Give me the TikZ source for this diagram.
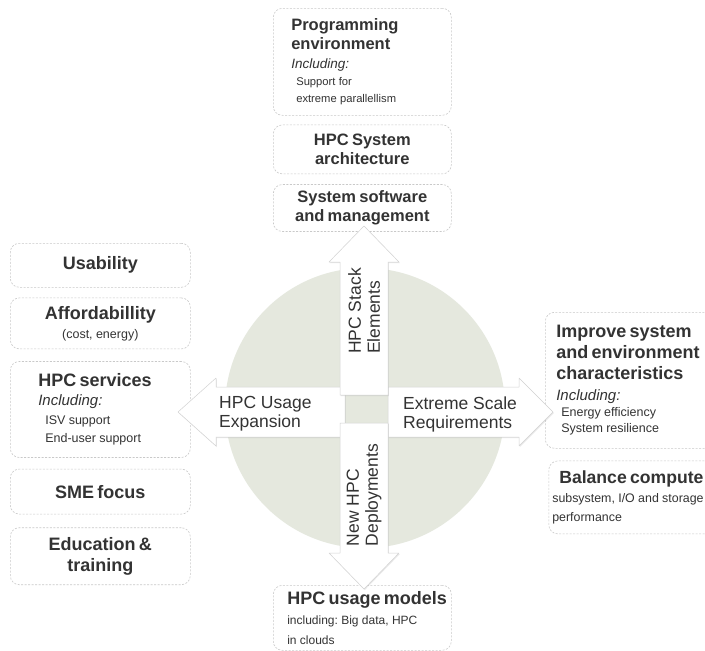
\documentclass[tikz,border=0pt]{standalone}
\usepackage{fontspec}
\setmainfont{Liberation Sans}
\usetikzlibrary{positioning,shadows}

\definecolor{txt}{HTML}{333333}
\definecolor{boxline}{HTML}{C9C9C9}
\definecolor{disc}{HTML}{E5E8DE}
\definecolor{arrowedge}{HTML}{D2D2D2}

\hyphenpenalty=10000
\exhyphenpenalty=10000
\frenchspacing

% heading, "Including:" and item lines inside the boxes
% (the t-versions are the smaller ones of the stack column)
\newcommand{\hdt}[1]{{\fontsize{16.5}{19}\selectfont\bfseries #1\par}}
\newcommand{\hd}[1]{{\fontsize{18}{21}\selectfont\bfseries #1\par}}
\newcommand{\inclt}{{\fontsize{13.5}{19}\selectfont\itshape Including:\par}}
\newcommand{\incl}{{\fontsize{15}{19}\selectfont\itshape Including:\par}}
\newcommand{\itmt}[1]{{\fontsize{11.2}{17}\selectfont\hspace*{5pt}#1\par}}
\newcommand{\itm}[1]{{\fontsize{12.5}{19}\selectfont\hspace*{7pt}#1\par}}

\begin{document}
\begin{tikzpicture}[x=1pt, y=-1pt,
	box/.style={draw=boxline, dash pattern=on 2pt off 1.5pt, line width=0.6pt, rounded corners=9pt, text=txt, inner ysep=0pt},
	lbox/.style={box, align=left},
	cbox/.style={box, align=center, inner xsep=4pt},
	albl/.style={text=txt, align=left, inner sep=0pt, font=\fontsize{17.5}{19}\selectfont},
	bigarrow/.style={fill=white, draw=arrowedge, line width=0.5pt, line join=round, drop shadow={opacity=0.18, shadow xshift=0.8pt, shadow yshift=-1pt}}]
	\clip (0,0) rectangle (705,651);
	\fill[white] (0,0) rectangle (705,651);

	% the disc behind the arrows
	\fill[disc] (365,408) circle (140);

	% stack elements (top)
	\node[lbox, anchor=north west, minimum width=178pt, minimum height=107pt, text width=142pt, inner xsep=18pt](prog) at (273,8)
		{\hdt{Programming\\environment}\inclt\itmt{Support for}\itmt{extreme parallellism}};
	\node[cbox, minimum width=178pt, minimum height=49pt, text width=170pt, below=9pt of prog](arch) {\hdt{HPC System\\architecture}};
	\node[cbox, minimum width=178pt, minimum height=47pt, text width=170pt, below=10pt of arch](syssw) {\hdt{System software\\and management}};

	% usage expansion (left)
	\node[cbox, anchor=north west, minimum width=180pt, minimum height=44pt, text width=172pt](usab) at (10,243) {\hd{Usability}};
	\node[cbox, minimum width=180pt, minimum height=51pt, text width=172pt, below=10pt of usab](afford)
		{\hd{Affordabillity}{\fontsize{12.5}{19}\selectfont (cost, energy)\par}};
	\node[lbox, minimum width=180pt, minimum height=96pt, text width=124pt, inner xsep=28pt, below=12pt of afford](serv)
		{\hd{HPC services}\incl\itm{ISV support}{\fontsize{12.5}{18}\selectfont\hspace*{7pt}End-user support\par}};
	\node[cbox, minimum width=180pt, minimum height=45pt, text width=172pt, below=11pt of serv](sme) {\hd{SME focus}};
	\node[cbox, minimum width=180pt, minimum height=57pt, text width=172pt, below=13pt of sme](edu) {\hd{Education \&\\training}};

	% extreme scale (right)
	\node[lbox, anchor=north west, minimum width=175pt, minimum height=136pt, text width=160pt, inner xsep=11pt](improve) at (545,312)
		{\hd{Improve system\\and environment\\characteristics}{\fontsize{15}{21}\selectfont\itshape Including:\par}{\fontsize{12.5}{16}\selectfont\hspace*{5pt}Energy efficiency\\\hspace*{5pt}System resilience\par}};
	\node[lbox, minimum width=175pt, minimum height=73pt, text width=168pt, inner xsep=3pt, below=12pt of improve](balance)
		{{\fontsize{17.6}{21}\selectfont\bfseries\hspace*{7pt}Balance compute\par}{\fontsize{12.4}{19}\selectfont subsystem, I/O and storage\\performance\par}};

	% new deployments (bottom)
	\node[lbox, anchor=north west, minimum width=178pt, minimum height=65pt, text width=150pt, inner xsep=14pt](models) at (273,585)
		{\hd{HPC~usage~models}{\fontsize{12}{20}\selectfont including: Big data, HPC\\in clouds\par}};

	% the four arrows
	\draw[bigarrow] (345,387) -- (216,387) -- (216,378) -- (178,412) -- (216,446) -- (216,437) -- (345,437) -- cycle;
	\draw[bigarrow] (388,387) -- (519,387) -- (519,378) -- (553,412) -- (519,446) -- (519,437) -- (388,437) -- cycle;
	\draw[bigarrow] (340,395) -- (340,262) -- (329,262) -- (364,226) -- (399,262) -- (388,262) -- (388,395) -- cycle;
	\draw[bigarrow] (340,423) -- (388,423) -- (388,553) -- (399,553) -- (364,589) -- (329,553) -- (340,553) -- cycle;

	\node[albl, rotate=90](stack) at (364,311) {HPC Stack\\Elements};
	\node[albl, rotate=90](newdep) at (364,495) {New HPC\\Deployments};
	\node[albl, anchor=west](usage) at (219,414) {HPC Usage\\Expansion};
	\node[albl, anchor=west](xscale) at (403,414) {Extreme Scale\\Requirements};
\end{tikzpicture}
\end{document}
